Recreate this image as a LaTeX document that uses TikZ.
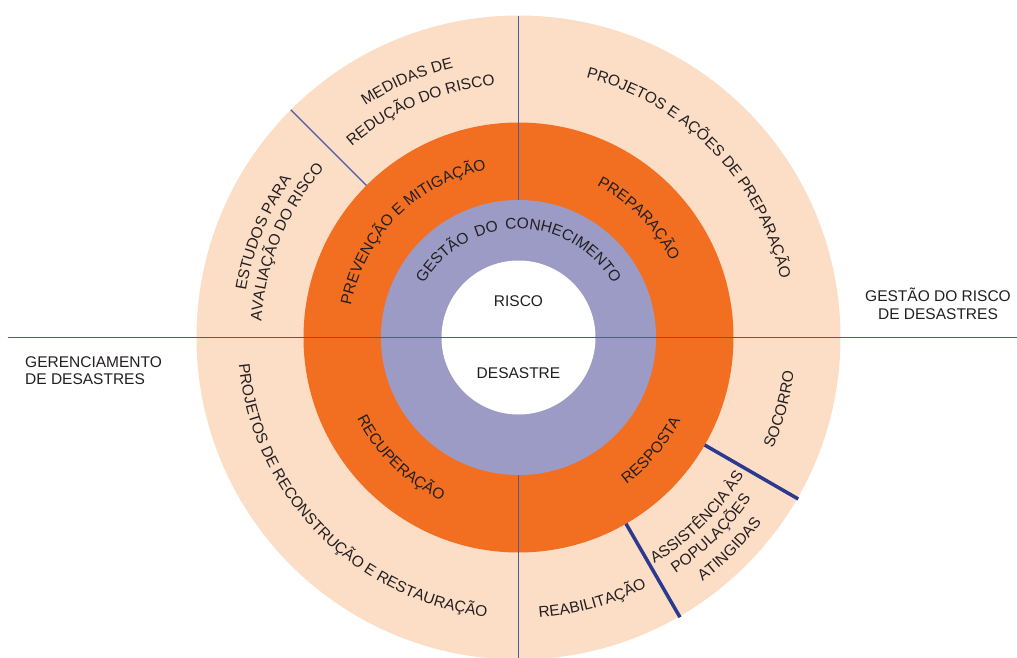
\documentclass[tikz,border=0pt]{standalone}
\usepackage{fontspec}
\setmainfont{Liberation Sans}
\usetikzlibrary{decorations.text}
\definecolor{peach}{HTML}{FCDDC6}
\definecolor{orng}{HTML}{F26F22}
\definecolor{lav}{HTML}{9C9BC6}
\definecolor{thinblue}{HTML}{4A5AA0}
\definecolor{navy}{HTML}{2B3A8E}
\definecolor{txt}{HTML}{231F20}
\newcommand{\lblfont}{\fontsize{15.5}{18}\selectfont}
\newcommand{\cwtext}[3]{\path[decorate,decoration={text along path,text align=center,text color=txt,text={|\lblfont|#3}}] ({#2+80}:#1pt) arc[start angle={#2+80},end angle={#2-80},radius=#1pt];}
\newcommand{\ccwtext}[3]{\path[decorate,decoration={text along path,text align=center,text color=txt,text={|\lblfont|#3}}] ({#2-80}:#1pt) arc[start angle={#2-80},end angle={#2+80},radius=#1pt];}
\tikzset{
  thinln/.style={draw=thinblue,line width=1.1pt},
  thickln/.style={draw=navy,line width=3.5pt},
  lbl/.style={font=\lblfont,text=txt,inner sep=0pt}
}
\begin{document}
\begin{tikzpicture}[x=1pt,y=1pt]
\useasboundingbox (-518.5,-319.5) rectangle (498.5,337.5);
\coordinate (O) at (0,0);
\fill[peach] (O) circle[radius=322pt];
\fill[orng] (O) circle[radius=215pt];
\coordinate (vt) at (90:322pt);
\coordinate (vb) at (-90:322pt);
\draw[thinln] (vt) -- (vb);
\coordinate (d1) at (135:322pt);
\coordinate (d2) at (135:215pt);
\draw[thinln] (d1) -- (d2);
\fill[lav] (O) circle[radius=137.5pt];
\fill[white] (O) circle[radius=77pt];
\coordinate (hl) at (-510.5,0);
\coordinate (hr) at (498.5,0);
\draw[thinln] (hl) -- (hr);
\coordinate (a1) at (-30:215pt);
\coordinate (a2) at (-30:323pt);
\coordinate (b1) at (-60:215pt);
\coordinate (b2) at (-60:323pt);
\draw[thickln] (a1) -- (a2);
\draw[thickln] (b1) -- (b2);
% center texts
\node[lbl,anchor=base] (risco) at (0,31.5) {RISCO};
\node[lbl,anchor=base] (desastre) at (0,-40.8) {DESASTRE};
% side labels
\node[lbl,anchor=base] (grd) at (419.5,36.5) {\begin{tabular}[t]{@{}c@{}}GESTÃO DO RISCO\\DE DESASTRES\end{tabular}};
\node[lbl,anchor=base west,font=\fontsize{15.5}{16.7}\selectfont] (gd) at (-493.5,-29.8) {\begin{tabular}[t]{@{}l@{}}GERENCIAMENTO\\DE DESASTRES\end{tabular}};
% curved texts
\cwtext{108.5}{90}{GESTÃO{\kern2.5pt} DO{\kern2.5pt} CONHECIMENTO}
\cwtext{170.5}{135}{PREVENÇÃO E MITIGAÇÃO}
\cwtext{277.5}{113.5}{MEDIDAS DE}
\cwtext{253.5}{113.2}{REDUÇÃO DO RISCO}
\cwtext{276.5}{157.7}{ESTUDOS PARA}
\cwtext{257.5}{157.7}{AVALIAÇÃO DO RISCO}
\cwtext{268.5}{44}{PROJETOS E AÇÕES DE PREPARAÇÃO}
\cwtext{170.5}{44.6}{PREPARAÇÃO}
\ccwtext{180.5}{225.7}{RECUPERAÇÃO}
\ccwtext{281}{224.5}{PROJETOS DE RECONSTRUÇÃO E RESTAURAÇÃO}
\ccwtext{182}{-40.3}{RESPOSTA}
\ccwtext{277.5}{-15.35}{SOCORRO}
\ccwtext{264}{-45.2}{ASSISTÊNCIA ÀS}
\ccwtext{283}{-45.5}{POPULAÇÕES}
\ccwtext{305.5}{-45.1}{ATINGIDAS}
\ccwtext{281}{-74.3}{REABILITAÇÃO}
\end{tikzpicture}
\end{document}
